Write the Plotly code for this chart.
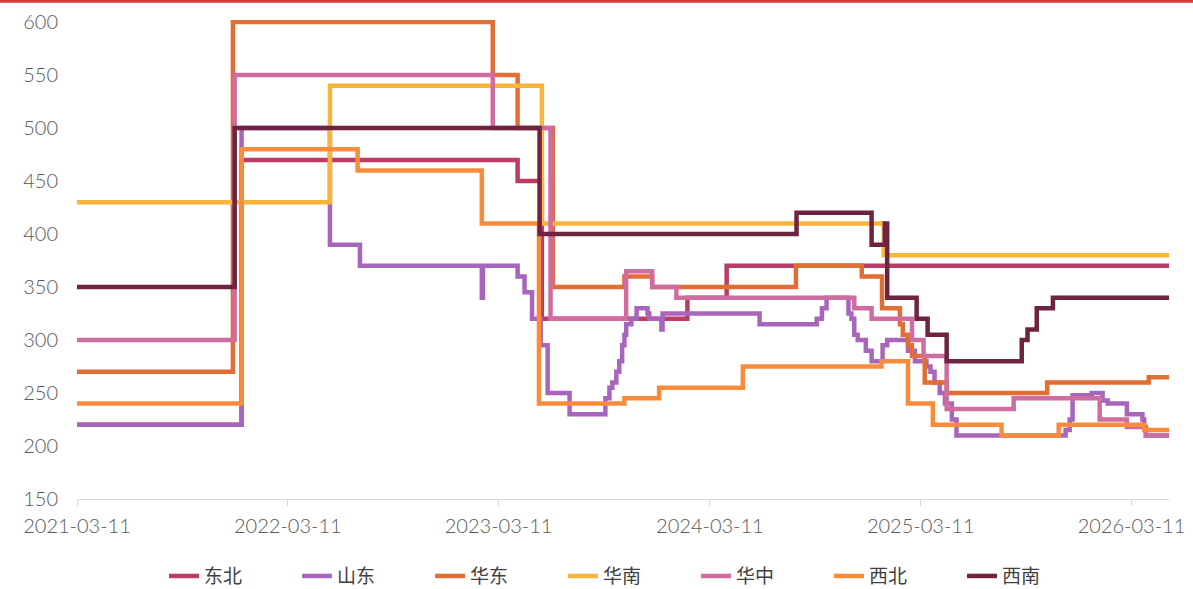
import plotly.graph_objects as go

# ---- data (change points; step lines) ----
dongbei_dates = ["2021-03-11", "2021-12-21", "2023-04-13", "2023-05-25", "2024-02-01", "2024-04-09", "2026-05-15"]
dongbei_vals = [220, 470, 450, 320, 340, 370, 370]

shandong_dates = ["2021-03-11", "2021-12-21", "2022-05-23", "2022-07-14", "2023-02-10", "2023-02-12",
                  "2023-04-13", "2023-04-25", "2023-05-08", "2023-05-23", "2023-06-04", "2023-07-12",
                  "2023-09-12", "2023-09-19", "2023-09-24", "2023-10-01", "2023-10-06", "2023-10-11",
                  "2023-10-15", "2023-10-18", "2023-10-27", "2023-11-05", "2023-11-24", "2023-11-27",
                  "2023-12-18", "2023-12-20", "2024-06-05", "2024-09-12", "2024-09-21", "2024-09-29",
                  "2024-11-06", "2024-11-11", "2024-11-16", "2024-11-22", "2024-12-06", "2024-12-16",
                  "2025-01-04", "2025-01-12", "2025-02-17", "2025-03-01", "2025-03-21", "2025-03-28",
                  "2025-04-04", "2025-04-13", "2025-04-22", "2025-05-04", "2025-05-12", "2025-11-17",
                  "2025-11-24", "2025-11-29", "2026-01-01", "2026-01-20", "2026-01-29", "2026-03-03",
                  "2026-03-30", "2026-04-02", "2026-04-05", "2026-05-15"]
shandong_vals = [220, 500, 390, 370, 340, 370,
                 360, 345, 320, 295, 250, 230,
                 245, 255, 260, 270, 280, 295,
                 305, 315, 320, 330, 325, 320,
                 310, 325, 315, 320, 330, 340,
                 325, 320, 305, 300, 290, 280,
                 295, 300, 290, 280, 275, 270,
                 260, 250, 240, 225, 210, 215,
                 225, 248, 250, 243, 240, 230,
                 225, 215, 210, 210]

huadong_dates = ["2021-03-11", "2021-12-06", "2023-03-01", "2023-04-13", "2023-06-13", "2023-10-15",
                 "2023-12-02", "2024-08-07", "2024-11-29", "2025-01-03", "2025-02-03", "2025-02-08",
                 "2025-02-17", "2025-02-24", "2025-03-18", "2025-04-25", "2025-10-16", "2026-04-10",
                 "2026-05-15"]
huadong_vals = [270, 600, 550, 500, 350, 360,
                350, 370, 360, 330, 315, 305,
                295, 285, 260, 250, 260, 265,
                265]

huanan_dates = ["2021-03-11", "2022-05-23", "2023-05-25", "2025-01-06", "2026-05-15"]
huanan_vals = [430, 540, 410, 380, 380]

huazhong_dates = ["2021-03-11", "2021-12-09", "2023-03-01", "2023-06-09", "2023-10-18", "2023-12-02",
                  "2024-01-13", "2024-11-16", "2024-12-16", "2025-02-24", "2025-03-16", "2025-04-25",
                  "2025-08-19", "2026-01-15", "2026-03-03", "2026-04-05", "2026-05-15"]
huazhong_vals = [300, 550, 500, 320, 365, 350,
                 340, 330, 320, 300, 285, 235,
                 245, 225, 218, 210, 210]

xibei_dates = ["2021-03-11", "2021-12-21", "2022-07-10", "2023-02-10", "2023-05-20", "2023-10-15",
               "2023-12-14", "2024-05-07", "2025-01-02", "2025-02-17", "2025-04-01", "2025-07-29",
               "2025-11-05", "2026-04-02", "2026-05-15"]
xibei_vals = [240, 480, 460, 410, 240, 245,
              255, 275, 280, 240, 220, 210,
              220, 215, 215]

xinan_dates = ["2021-03-11", "2021-12-09", "2023-05-21", "2024-08-08", "2024-12-16", "2025-01-08",
               "2025-01-12", "2025-03-04", "2025-03-23", "2025-04-25", "2025-09-02", "2025-09-12",
               "2025-09-28", "2025-10-26", "2026-05-15"]
xinan_vals = [350, 500, 400, 420, 390, 410,
              340, 320, 305, 280, 300, 310,
              330, 340, 340]

tick_dates = ["2021-03-11", "2022-03-11", "2023-03-11", "2024-03-11", "2025-03-11", "2026-03-11"]
y_ticks = [150, 200, 250, 300, 350, 400, 450, 500, 550, 600]

series = [
    ("东北", dongbei_dates, dongbei_vals, "#B93D64"),
    ("山东", shandong_dates, shandong_vals, "#A865BC"),
    ("华东", huadong_dates, huadong_vals, "#E06E35"),
    ("华南", huanan_dates, huanan_vals, "#F9B43A"),
    ("华中", huazhong_dates, huazhong_vals, "#D06DA0"),
    ("西北", xibei_dates, xibei_vals, "#F98C3B"),
    ("西南", xinan_dates, xinan_vals, "#6E2340"),
]

fig = go.Figure()
for name, d, v, c in series:
    fig.add_trace(go.Scatter(x=d, y=v, name=name, mode="lines",
                             line=dict(color=c, width=4.5, shape="hv")))

tick_font = dict(family="Lato", size=20, color="#595959", weight=300)

fig.update_layout(
    width=1193, height=589,
    margin=dict(l=77, r=24, t=20, b=90, autoexpand=False),
    paper_bgcolor="white", plot_bgcolor="white",
    showlegend=True,
    legend=dict(orientation="h", x=0.506, xanchor="center", y=-0.161, yanchor="middle",
                font=dict(family="Noto Sans CJK SC", size=19, color="#404040"),
                entrywidth=88, entrywidthmode="pixels", traceorder="normal"),
    xaxis=dict(type="date", range=["2021-03-11", "2026-05-15"], automargin=False,
               tickvals=tick_dates, ticktext=tick_dates,
               showgrid=False, zeroline=False,
               showline=True, linecolor="#D9D9D9", linewidth=1,
               ticks="outside", ticklen=6, tickcolor="#D9D9D9",
               ticklabelstandoff=3,
               tickfont=tick_font),
    yaxis=dict(range=[150, 602], tickvals=y_ticks, automargin=False,
               showgrid=False, zeroline=False, showline=False,
               ticklabelstandoff=18,
               tickfont=tick_font),
    shapes=[dict(type="line", xref="paper", yref="paper",
                 x0=-0.08, x1=1.03, y0=1.039, y1=1.039,
                 line=dict(color="#D9383A", width=3))],
)

fig.write_html("out.html", config={"displayModeBar": False},
               post_script="document.body.style.margin='0px';")
